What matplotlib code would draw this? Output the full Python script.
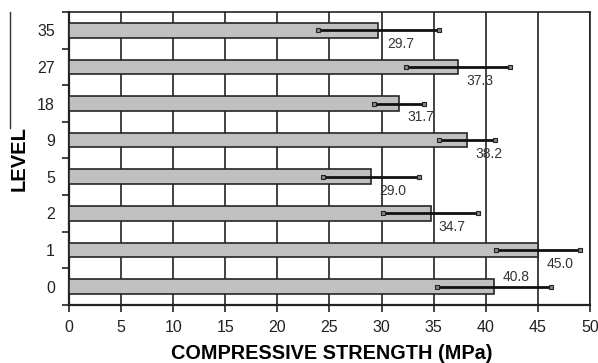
import numpy as np
import matplotlib
matplotlib.use('Agg')
import matplotlib.pyplot as plt
from matplotlib.lines import Line2D

plt.rcParams['font.family'] = ['Liberation Sans', 'DejaVu Sans']

levels = ['0', '1', '2', '5', '9', '18', '27', '35']
strength = [40.8, 45.0, 34.7, 29.0, 38.2, 31.7, 37.3, 29.7]
err = [5.5, 4.0, 4.6, 4.6, 2.7, 2.4, 5.0, 5.8]

fig = plt.figure(figsize=(5.98, 3.63), dpi=100)
ax = fig.add_axes([0.1154, 0.1598, 0.8712, 0.8072])

y = np.arange(len(levels))
ax.barh(y, strength, height=0.4, color='#c0c0c0', edgecolor='#262626',
        linewidth=1.2, zorder=3)
ax.errorbar(strength, y, xerr=err, fmt='none', ecolor='#111111',
            elinewidth=2, capsize=0, zorder=4)
# small square caps at the error bar ends
lo = np.array(strength) - np.array(err)
hi = np.array(strength) + np.array(err)
ax.plot(lo, y, 's', ms=3, mfc='#888888', mec='#222222', mew=0.8, zorder=5)
ax.plot(hi, y, 's', ms=3, mfc='#888888', mec='#222222', mew=0.8, zorder=5)

for i, v in enumerate(strength):
    dy = 7 if i == 0 else -10
    ax.annotate(f'{v:.1f}', (v, y[i]), xytext=(6, dy), textcoords='offset points',
                ha='left', va='center', fontsize=10, color='#333333', zorder=6)

ax.set_xlim(0, 50)
ax.set_ylim(-0.5, len(levels) - 0.5)
ax.set_xticks(np.arange(0, 51, 5))
ax.set_yticks(y)
ax.set_yticklabels(levels)
ax.set_yticks(np.arange(-0.5, len(levels), 1), minor=True)
ax.tick_params(axis='y', which='major', length=0, pad=10, labelsize=11.5, labelcolor='#222222')
ax.tick_params(axis='y', which='minor', length=5, width=1.2, color='#222222', direction='out')
ax.tick_params(axis='x', length=5, width=1.2, color='#222222', labelsize=11.5,
               labelcolor='#222222', pad=6)
ax.grid(axis='x', color='#222222', linewidth=1.2, zorder=1)

for s in ax.spines.values():
    s.set_color('#222222')
    s.set_linewidth(1.2)
ax.spines['left'].set_linewidth(1.6)
ax.spines['bottom'].set_linewidth(1.6)

ax.set_xlabel('COMPRESSIVE STRENGTH (MPa)', fontsize=14.3, fontweight='bold', va='center')
ax.set_ylabel('LEVEL', fontsize=14.5, fontweight='bold')
ax.xaxis.set_label_coords(0.505, -0.164)
ax.yaxis.set_label_coords(-0.078, 0.5)

# thin frame line left of the axis title, as in the scanned figure
fig.add_artist(Line2D([9.5 / 598, 9.5 / 598], [1 - 12 / 363, 1 - 128 / 363],
                      color='#333333', linewidth=1))

fig.savefig('out.png', dpi=100)
